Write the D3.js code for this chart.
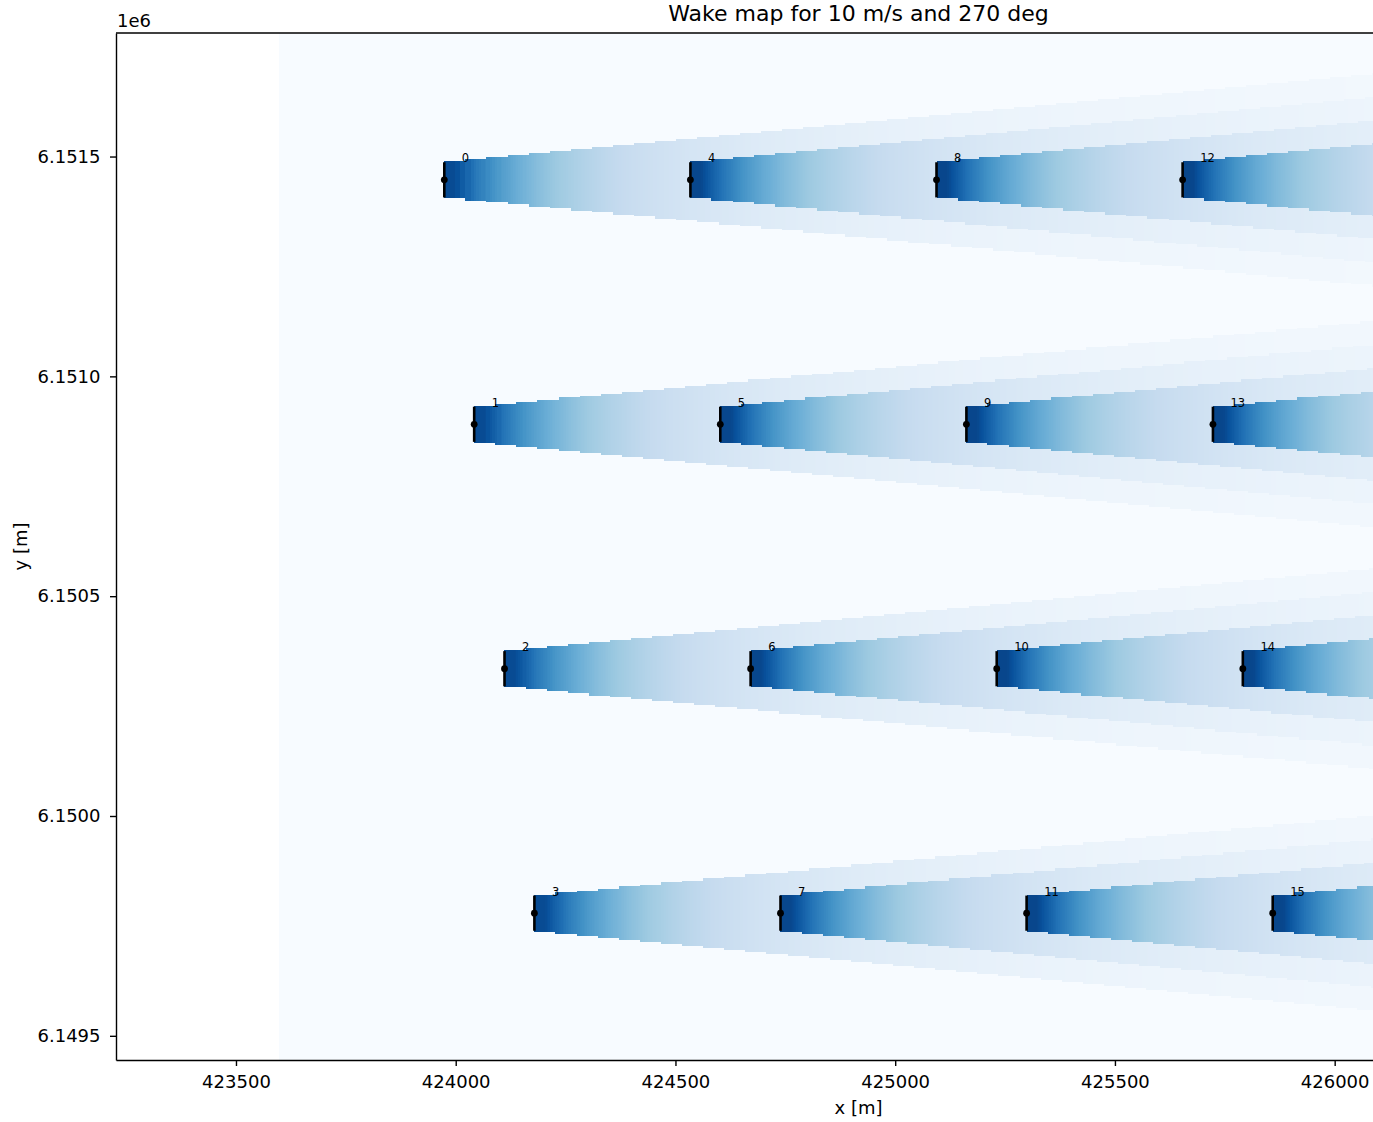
<!DOCTYPE html>
<meta charset="utf-8">
<style>
body { margin: 0; background: #fff; }
text { font-family: "DejaVu Sans", sans-serif; fill: #000; }
.axis path, .axis line { stroke: #000; stroke-width: 1.4px; }
.axis text { font-size: 18px; font-family: "DejaVu Sans", sans-serif; }
</style>
<svg width="1373" height="1122"></svg>
<script src="https://d3js.org/d3.v7.min.js"></script>
<script>

// turbine positions [m]
var turbX = [423974, 424042, 424111, 424179, 424534, 424602, 424671, 424739,
             425094, 425162, 425231, 425299, 425654, 425723, 425791, 425859];
var turbY = [6151447, 6150891, 6150335, 6149779, 6151447, 6150891, 6150335, 6149779,
             6151447, 6150891, 6150335, 6149779, 6151447, 6150891, 6150335, 6149779];
var turbLabel = ["0","1","2","3","4","5","6","7","8","9","10","11","12","13","14","15"];
var rotorRadius = 40;

// single wake, per 48 m step downstream: speed deficit [m/s] and half width [m]
var freeWs = 10;
var wakeStep = 48;
var wakeDeficit = [4.85, 3.91, 3.23, 2.70, 2.30, 1.98, 1.72, 1.51, 1.34, 1.19, 1.07, 0.96,
                   0.87, 0.80, 0.72, 0.66, 0.62, 0.57, 0.53, 0.49, 0.46, 0.43, 0.40, 0.37,
                   0.35, 0.33, 0.31, 0.29, 0.28, 0.26, 0.25, 0.24, 0.23, 0.22, 0.21, 0.20,
                   0.19, 0.18, 0.17, 0.17, 0.16, 0.15, 0.15, 0.14, 0.14];
var wakeHalfWidth = [42, 47, 51, 56, 61, 65, 70, 74, 79, 83, 88, 92, 97, 102, 106, 111, 115,
                     120, 124, 129, 133, 138, 143, 147, 152, 156, 161, 165, 170, 175, 179,
                     184, 188, 193, 197, 202, 206, 211, 216, 220, 225, 229, 234, 238, 243];

// map extent and axes
var gridX = [423597, 426236];
var gridY = [6149445, 6151781];
var xDomain = [423227, 426606];
var xTicks = [423500, 424000, 424500, 425000, 425500, 426000, 426500];
var yTicks = [6149500, 6150000, 6150500, 6151000, 6151500];
var wsDomain = [4.6, 10];
var blues = ["#f7fbff", "#deebf7", "#c6dbef", "#9ecae1", "#6baed6",
             "#4292c6", "#2171b5", "#08519c", "#08306b"];

var svg = d3.select("svg"),
    margin = {top: 33, left: 116},
    width = 1485,
    height = 1027,
    g = svg.append("g").attr("transform", "translate(" + margin.left + "," + margin.top + ")");

var x = d3.scaleLinear().domain(xDomain).range([0, width]),
    y = d3.scaleLinear().domain(gridY).range([height, 0]);

// Blues_r : low speed -> dark
var cmap = d3.scaleLinear().domain(d3.range(blues.length).map(function(i) { return i / (blues.length - 1); })).range(blues);
var wsColor = function(ws) {
  var t = (wsDomain[1] - ws) / (wsDomain[1] - wsDomain[0]);
  return cmap(Math.max(0, Math.min(1, t)));
};

g.append("clipPath").attr("id", "clip")
  .append("rect").attr("width", width).attr("height", height);

var map = g.append("g").attr("clip-path", "url(#clip)")
  .attr("shape-rendering", "crispEdges");

map.append("rect")
  .attr("x", x(gridX[0]))
  .attr("y", y(gridY[1]))
  .attr("width", x(gridX[1]) - x(gridX[0]))
  .attr("height", y(gridY[0]) - y(gridY[1]))
  .attr("fill", wsColor(freeWs));

// x boundaries: each turbine's own steps, split in 4 for shading like contourf
var sub = 4;
var xs = [gridX[0], gridX[1]];
turbX.forEach(function(tx) {
  for (var k = 0; k <= wakeDeficit.length * sub; k++) {
    var b = tx + k * wakeStep / sub;
    if (b > gridX[0] && b < gridX[1]) xs.push(b);
  }
});
xs = Array.from(new Set(xs)).sort(d3.ascending);

// deficit shaded between step centres
function deficitAt(dist) {
  var f = dist / wakeStep - 0.5;
  if (f <= 0) return wakeDeficit[0];
  var k0 = Math.floor(f), k1 = Math.min(k0 + 1, wakeDeficit.length - 1);
  return wakeDeficit[k0] + (wakeDeficit[k1] - wakeDeficit[k0]) * (f - k0);
}

var cells = [];
for (var i = 0; i < xs.length - 1; i++) {
  var xa = xs[i], xb = xs[i + 1], xm = (xa + xb) / 2;
  var wakes = [];
  turbX.forEach(function(tx, t) {
    if (xm <= tx) return;
    var k = Math.floor((xm - tx) / wakeStep);
    if (k >= wakeDeficit.length) return;
    wakes.push({y0: turbY[t] - wakeHalfWidth[k], y1: turbY[t] + wakeHalfWidth[k], d: deficitAt(xm - tx)});
  });
  if (!wakes.length) continue;
  var ys = [];
  wakes.forEach(function(w) { ys.push(w.y0, w.y1); });
  ys = Array.from(new Set(ys)).sort(d3.ascending);
  for (var j = 0; j < ys.length - 1; j++) {
    var ym = (ys[j] + ys[j + 1]) / 2, s = 0;
    wakes.forEach(function(w) { if (ym > w.y0 && ym < w.y1) s += w.d * w.d; });
    if (s > 0) cells.push({x0: xa, x1: xb, y0: ys[j], y1: ys[j + 1], ws: freeWs - Math.sqrt(s)});
  }
}

map.selectAll(".cell")
  .data(cells)
  .enter().append("rect")
    .attr("class", "cell")
    .attr("x", function(d) { return x(d.x0); })
    .attr("y", function(d) { return y(d.y1); })
    .attr("width", function(d) { return x(d.x1) - x(d.x0); })
    .attr("height", function(d) { return y(d.y0) - y(d.y1); })
    .attr("fill", function(d) { return wsColor(d.ws); });

// turbines
var wt = g.append("g").selectAll(".wt")
  .data(turbX)
  .enter().append("g").attr("class", "wt");

wt.append("line")
  .attr("x1", function(d) { return x(d); })
  .attr("x2", function(d) { return x(d); })
  .attr("y1", function(d, i) { return y(turbY[i] + rotorRadius); })
  .attr("y2", function(d, i) { return y(turbY[i] - rotorRadius); })
  .attr("stroke", "#000")
  .attr("stroke-width", 2.6);

wt.append("circle")
  .attr("cx", function(d) { return x(d); })
  .attr("cy", function(d, i) { return y(turbY[i]); })
  .attr("r", 3.4)
  .attr("fill", "#000");

wt.append("text")
  .attr("x", function(d) { return x(d + rotorRadius); })
  .attr("y", function(d, i) { return y(turbY[i] + rotorRadius); })
  .style("font-size", "11.5px")
  .attr("fill", "#222")
  .text(function(d, i) { return turbLabel[i]; });

// axes
g.append("g")
    .attr("class", "axis axis--x")
    .attr("transform", "translate(0," + height + ")")
    .call(d3.axisBottom(x).tickValues(xTicks).tickFormat(d3.format("d")).tickSize(6).tickSizeOuter(0).tickPadding(9.5))
    .attr("font-family", null).attr("font-size", null);

g.append("g")
    .attr("class", "axis axis--y")
    .call(d3.axisLeft(y).tickValues(yTicks).tickFormat(function(d) { return d3.format(".4f")(d / 1e6); }).tickSize(6).tickSizeOuter(0).tickPadding(9.5))
    .attr("font-family", null).attr("font-size", null);

g.selectAll(".axis text").attr("fill", "#000");

// top and right spines
g.append("line").attr("x1", 0).attr("x2", width).attr("y1", 0).attr("y2", 0)
  .attr("stroke", "#000").attr("stroke-width", 1.4);
g.append("line").attr("x1", width).attr("x2", width).attr("y1", 0).attr("y2", height)
  .attr("stroke", "#000").attr("stroke-width", 1.4);

svg.append("text")
  .attr("x", 117).attr("y", 26.7)
  .style("font-size", "18px")
  .text("1e6");

svg.append("text")
  .attr("x", margin.left + width / 2).attr("y", 20.7)
  .attr("text-anchor", "middle")
  .style("font-size", "22px")
  .text("Wake map for 10 m/s and 270 deg");

svg.append("text")
  .attr("x", margin.left + width / 2).attr("y", 1114)
  .attr("text-anchor", "middle")
  .style("font-size", "18px")
  .text("x [m]");

svg.append("text")
  .attr("transform", "translate(26.7," + (margin.top + height / 2) + ") rotate(-90)")
  .attr("text-anchor", "middle")
  .style("font-size", "18px")
  .text("y [m]");

</script>
